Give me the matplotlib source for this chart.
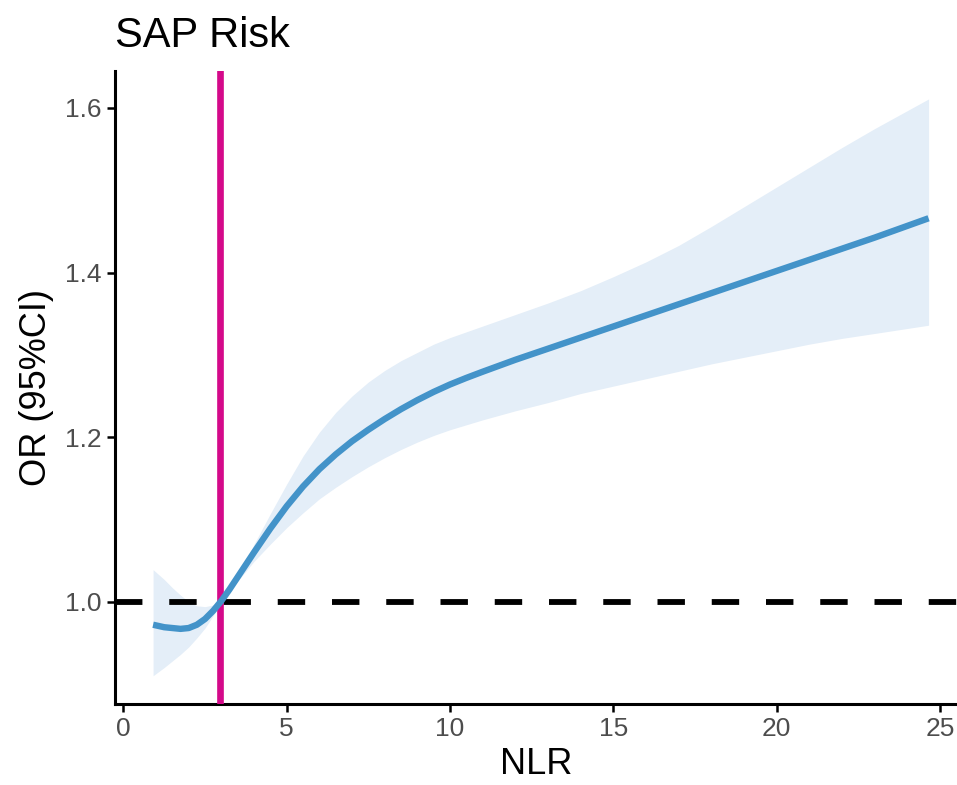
import matplotlib
matplotlib.use("Agg")
import matplotlib.pyplot as plt

plt.rcParams['font.family'] = ['Liberation Sans', 'DejaVu Sans']

# Spline curve (NLR vs OR)
nlr = [0.91, 1.25, 1.5, 1.75, 2.0, 2.25, 2.5, 2.75, 3.0, 3.25, 3.5, 3.75, 4.0, 4.5,
       5.0, 5.5, 6.0, 6.5, 7.0, 7.5, 8.0, 8.5, 9.0, 9.5, 10.0, 10.5, 11.0, 12, 13, 14,
       15, 16, 17, 18, 19, 20, 21, 22, 23, 24.65]
or_fit = [0.972, 0.969, 0.968, 0.967, 0.968, 0.972, 0.979, 0.989, 1.001, 1.015, 1.030,
          1.045, 1.060, 1.089, 1.116, 1.140, 1.161, 1.179, 1.195, 1.209, 1.222, 1.234,
          1.245, 1.255, 1.264, 1.272, 1.2795, 1.294, 1.3075, 1.321, 1.3345, 1.348,
          1.3615, 1.375, 1.3885, 1.402, 1.4155, 1.429, 1.4425, 1.466]
or_low = [0.910, 0.920, 0.928, 0.936, 0.945, 0.956, 0.968, 0.983, 0.999, 1.013, 1.025,
          1.037, 1.049, 1.070, 1.090, 1.108, 1.125, 1.139, 1.152, 1.164, 1.175, 1.185,
          1.194, 1.202, 1.209, 1.215, 1.221, 1.232, 1.242, 1.253, 1.262, 1.271, 1.280,
          1.289, 1.297, 1.305, 1.313, 1.320, 1.326, 1.336]
or_up = [1.039, 1.027, 1.017, 1.008, 1.000, 0.995, 0.994, 0.996, 1.003, 1.015, 1.030,
         1.049, 1.070, 1.107, 1.143, 1.177, 1.206, 1.230, 1.250, 1.267, 1.281, 1.293,
         1.303, 1.313, 1.321, 1.328, 1.335, 1.349, 1.363, 1.378, 1.395, 1.413, 1.433,
         1.456, 1.480, 1.504, 1.528, 1.552, 1.575, 1.611]

cutoff = 2.945
ref_or = 1.0
xticks = [0, 5, 10, 15, 20, 25]
yticks = [1.0, 1.2, 1.4, 1.6]

fig = plt.figure(figsize=(9.57, 7.85), dpi=100)
ax = fig.add_axes([0.1202, 0.1032, 0.8798, 0.8064])

ax.fill_between(nlr, or_low, or_up, color='#e4eef8', linewidth=0, zorder=1)
ax.axhline(ref_or, color='black', linestyle=(0, (4.7, 4.6)), linewidth=4.2, zorder=2)
ax.axvline(cutoff, color='#d4098a', linewidth=4.8, zorder=3)
ax.plot(nlr, or_fit, color='#4393c9', linewidth=4.6, solid_capstyle='butt', zorder=4)

ax.set_xlim(-0.255, 25.52)
ax.set_ylim(0.8757, 1.645)
ax.set_xticks(xticks)
ax.set_yticks(yticks)
ax.set_xticklabels([str(t) for t in xticks])
ax.set_yticklabels([f"{t:.1f}" for t in yticks])

for side in ['top', 'right']:
    ax.spines[side].set_visible(False)
for side in ['left', 'bottom']:
    ax.spines[side].set_linewidth(2.2)
    ax.spines[side].set_color('black')

ax.tick_params(axis='both', length=5.5, width=1.8, color='black',
               labelsize=19, labelcolor='#4d4d4d', pad=4)

ax.set_xlabel('NLR', fontsize=26, color='black', labelpad=4)
ax.set_ylabel('OR (95%CI)', fontsize=26, color='black', labelpad=8)
ax.set_title('SAP Risk', fontsize=30, loc='left', color='black', pad=17)

fig.savefig('out.png', dpi=100)
